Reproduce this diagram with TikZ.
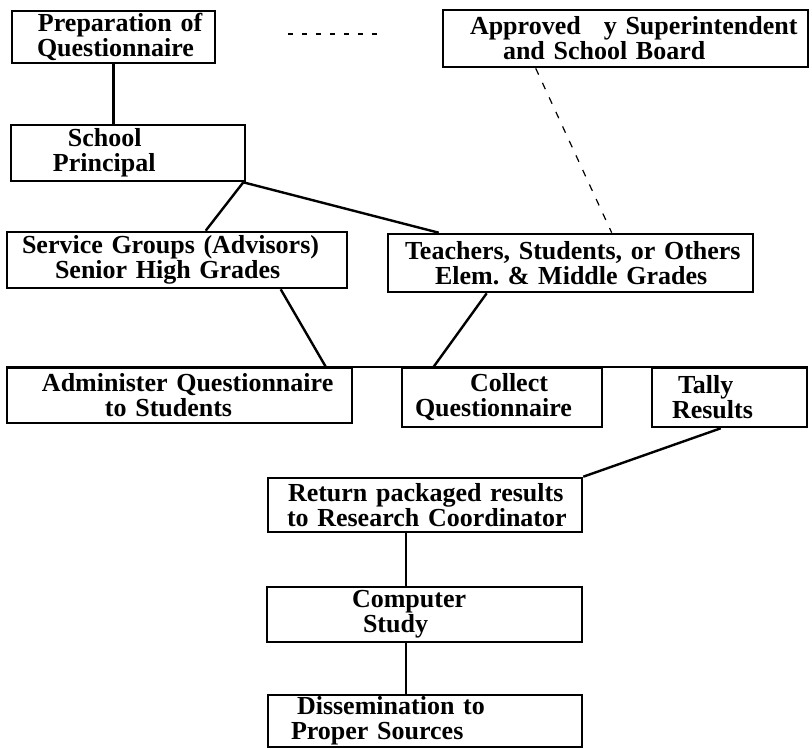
\documentclass[tikz,border=0pt]{standalone}
\usepackage{fontspec}
\setmainfont{Liberation Serif}
\usetikzlibrary{calc}
\begin{document}
\begin{tikzpicture}[x=1pt,y=-1pt,
  box/.style={draw, line width=2.6pt, inner sep=0pt, align=left,
    font=\bfseries\fontsize{26}{25}\selectfont},
  conn/.style={line width=2.4pt},
  faint/.style={line width=1.2pt, dash pattern=on 7pt off 9pt}]
\path[use as bounding box, fill=white] (0,0) rectangle (812,749);

\node[box, minimum width=203pt, minimum height=52pt, text width=203pt] (prep) at (113.5,37)
  {\hspace*{26pt}Preparation of\\\hspace*{25pt}Questionnaire};
\node[box, minimum width=234pt, minimum height=56pt, text width=234pt] (principal) at (128,153)
  {\hspace*{57pt}School\\\hspace*{42pt}Principal};
\node[box, minimum width=365pt, minimum height=57pt, text width=365pt] (approved) at (625.5,38.5)
  {\hspace*{27pt}Approved \phantom{b}y Superintendent\\\hspace*{60pt}and School Board};
\node[box, minimum width=340pt, minimum height=56pt, text width=340pt] (service) at (177,260)
  {\hspace*{15pt}Service Groups (Advisors)\\\hspace*{48pt}Senior High Grades};
\node[box, minimum width=365pt, minimum height=58pt, text width=365pt] (teachers) at (570.5,263)
  {\hspace*{17pt}Teachers, Students, or Others\\\hspace*{47pt}Elem.\ \& Middle Grades};
\node[box, minimum width=345pt, minimum height=55pt, text width=345pt] (admin) at (179.5,395.5)
  {\hspace*{35pt}Administer Questionnaire\\\hspace*{98pt}to Students};
\node[box, minimum width=200pt, minimum height=59pt, text width=200pt] (collect) at (502,397.5)
  {\hspace*{68pt}Collect\\\hspace*{13pt}Questionnaire};
\node[box, minimum width=155pt, minimum height=59pt, text width=155pt] (tally) at (729.5,397.5)
  {\hspace*{26pt}Tally\\\hspace*{20pt}Results};
\node[box, minimum width=314pt, minimum height=54pt, text width=314pt] (return) at (425,505)
  {\hspace*{20pt}Return packaged results\\\hspace*{19pt}to Research Coordinator};
\node[box, minimum width=315pt, minimum height=55pt, text width=315pt] (computer) at (424.5,614.5)
  {\hspace*{85pt}Computer\\\hspace*{96pt}Study};
\node[box, minimum width=314pt, minimum height=52pt, text width=314pt] (dissem) at (425,721)
  {\hspace*{29pt}Dissemination to\\\hspace*{23pt}Proper Sources};

% connectors
\draw[conn] (prep.south) -- (prep.south |- principal.north);
\draw[conn] ($(principal.south east)+(-3,0)$) -- ($(service.north west)+(200,0)$);
\draw[conn] ($(principal.south east)+(-3,0)$) -- ($(teachers.north west)+(52,0)$);
\draw[conn] ($(service.south west)+(275,0)$) -- ($(admin.north west)+(320,0)$);
\draw[conn] ($(teachers.south west)+(100,0)$) -- ($(collect.north west)+(33,0)$);
\draw[conn] (admin.north west) -- (tally.north east);
\draw[conn] ($(tally.south west)+(70,0)$) -- (return.north east);
\draw[conn] ($(return.south west)+(139,0)$) -- ($(computer.north west)+(140,0)$);
\draw[conn] ($(computer.south west)+(140,0)$) -- ($(dissem.north west)+(139,0)$);
\draw[faint] ($(approved.south west)+(94,0)$) -- ($(teachers.north west)+(225,0)$);
\coordinate (d1) at (288,34);
\coordinate (d2) at (378,34);
\draw[line width=1.8pt, dash pattern=on 5pt off 9pt] (d1) -- (d2);
\end{tikzpicture}
\end{document}
